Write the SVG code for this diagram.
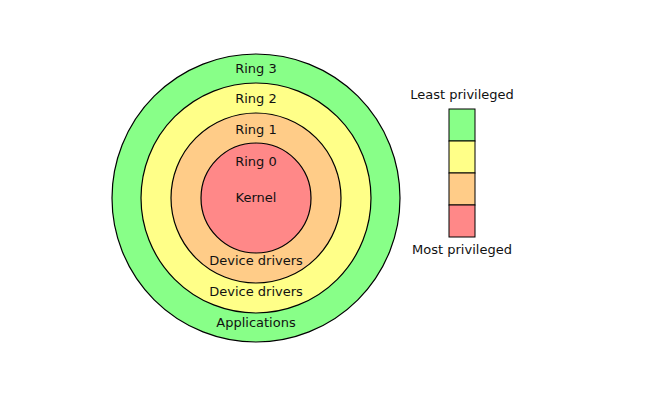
<svg xmlns="http://www.w3.org/2000/svg" width="650" height="400" viewBox="0 0 650 400">
<style>
.ring{stroke:#000;stroke-width:1.2}
.t{font-family:"DejaVu Sans",sans-serif;font-size:13px;fill:#111;text-anchor:middle}
.cell{stroke:#000;stroke-width:1}
</style>
<rect width="650" height="400" fill="#fff"/>
<g id="ring3"><circle class="ring" cx="256" cy="198" r="144" fill="#8f8"/></g>
<g id="ring2"><circle class="ring" cx="256" cy="198" r="115" fill="#ff8"/></g>
<g id="ring1"><circle class="ring" cx="256" cy="198" r="85" fill="#fc8"/></g>
<g id="ring0"><circle class="ring" cx="256" cy="198" r="55" fill="#f88"/></g>
<g id="labels">
<text class="t" x="256" y="73">Ring 3</text>
<text class="t" x="256" y="103">Ring 2</text>
<text class="t" x="256" y="134">Ring 1</text>
<text class="t" x="256" y="166">Ring 0</text>
<text class="t" x="256" y="202">Kernel</text>
<text class="t" x="256" y="265">Device drivers</text>
<text class="t" x="256" y="296">Device drivers</text>
<text class="t" x="256" y="327">Applications</text>
</g>
<g id="legend">
<text class="t" x="462" y="99">Least privileged</text>
<rect class="cell" x="449" y="109" width="26" height="32" fill="#8f8"/>
<rect class="cell" x="449" y="141" width="26" height="32" fill="#ff8"/>
<rect class="cell" x="449" y="173" width="26" height="32" fill="#fc8"/>
<rect class="cell" x="449" y="205" width="26" height="32" fill="#f88"/>
<text class="t" x="462" y="254">Most privileged</text>
</g>
<g id="connectors"/>
</svg>
